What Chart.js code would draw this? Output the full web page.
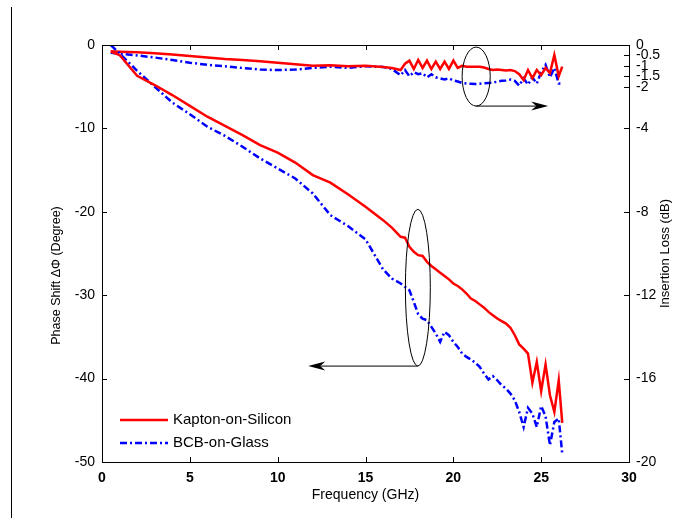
<!DOCTYPE html>
<html>
<head>
<meta charset="utf-8">
<script src="https://cdn.jsdelivr.net/npm/chart.js@4.4.1/dist/chart.umd.min.js"></script>
<style>
  html, body { margin: 0; padding: 0; background: #fff; }
  #wrap { position: relative; width: 673px; height: 518px; }
  #edge { position: absolute; left: 11px; top: 7px; width: 1px; height: 511px; background: #000; }
</style>
</head>
<body>
<div id="wrap">
  <canvas id="chart" width="673" height="518"></canvas>
  <div id="edge"></div>
</div>
<script>
// frequency points (GHz)
const freq = [0.5,1,2,3,4,5,6,7,8,9,10,11,12,13,14,15,16,16.5,
  17,17.25,17.5,17.75,18,18.25,18.5,18.75,19,19.25,19.5,19.75,
  20,20.25,20.5,20.75,21,21.25,21.5,21.75,22,22.25,22.5,22.75,
  23,23.25,23.5,23.75,24,24.25,24.5,24.75,25,25.25,25.5,25.75,26,26.2]

// phase shift (degree), left axis
const kaptonPhase = [-0.8,-1.2,-3.7,-4.8,-6.0,-7.3,-8.6,-9.7,-10.8,-12.0,-12.9,-14.1,-15.6,-16.5,-17.9,-19.4,-21.0,-21.9,
  -23.0,-23.1,-24.2,-24.8,-25.2,-25.3,-26.0,-26.5,-26.9,-27.3,-27.7,-28.1,
  -28.6,-28.9,-29.3,-29.8,-30.4,-30.7,-31.1,-31.5,-32.0,-32.4,-32.8,-33.1,
  -33.4,-33.9,-34.8,-35.9,-36.4,-37.0,-40.5,-38.0,-41.5,-38.3,-42.0,-44.0,-40.2,-45.3]
const bcbPhase = [0,-1.0,-3.1,-5.0,-6.9,-8.3,-9.8,-10.9,-12.2,-13.6,-14.8,-16.0,-17.8,-20.4,-21.7,-23.3,-26.9,-28.0,
  -28.6,-29.0,-29.4,-30.8,-32.3,-32.8,-33.0,-33.8,-34.6,-35.6,-34.4,-34.8,
  -35.6,-36.2,-37.0,-37.4,-37.7,-38.1,-38.6,-39.4,-40.1,-39.7,-40.2,-40.8,
  -41.2,-41.8,-42.6,-44.0,-45.8,-43.5,-44.2,-45.8,-43.3,-44.5,-48.0,-45.2,-44.8,-49.0]

// insertion loss (dB), right axis
const kaptonLoss = [-0.3,-0.32,-0.35,-0.4,-0.45,-0.53,-0.6,-0.67,-0.72,-0.78,-0.85,-0.92,-1.0,-0.97,-1.02,-1.0,-1.05,-1.1,
  -1.2,-0.9,-0.75,-1.15,-0.72,-1.1,-0.75,-1.15,-0.8,-1.15,-0.8,-1.15,
  -0.75,-1.1,-1.0,-1.04,-1.04,-1.04,-1.04,-1.08,-1.15,-1.2,-1.18,-1.2,
  -1.22,-1.2,-1.25,-1.4,-1.68,-1.2,-1.6,-1.2,-1.45,-1.1,-1.35,-0.48,-1.5,-1.04]
const bcbLoss = [-0.37,-0.42,-0.5,-0.6,-0.72,-0.85,-0.95,-1.02,-1.1,-1.18,-1.2,-1.18,-1.1,-1.04,-1.1,-1.02,-1.05,-1.15,
  -1.45,-1.2,-1.5,-1.3,-1.4,-1.35,-1.55,-1.4,-1.55,-1.6,-1.65,-1.6,
  -1.7,-1.75,-1.82,-1.85,-1.86,-1.87,-1.86,-1.84,-1.82,-1.8,-1.76,-1.72,
  -1.7,-1.66,-1.72,-1.95,-1.6,-1.9,-1.55,-1.85,-1.3,-0.95,-1.55,-1.1,-1.85,-1.85]

const xTicks = [0,5,10,15,20,25,30]
const phaseTicks = [0,-10,-20,-30,-40,-50]
const lossTicks = [0,-0.5,-1,-1.5,-2,-4,-8,-12,-16,-20]
const seriesNames = ['Kapton-on-Silicon', 'BCB-on-Glass']

const RED = '#ff0000', BLUE = '#0000ff'
const FONT = '"Liberation Sans", Arial, sans-serif'
const DASHDOT = [7, 3, 2, 3]

// ellipses + arrows, in data units
const lossRing  = { f: 21.3,  half: 0.8,  top: -0.1,  bottom: -2.93, arrowTo: 25.4 }
const phaseRing = { f: 17.98, half: 0.71, top: -19.7, bottom: -38.5, arrowTo: 11.74 }

const pts = ys => freq.map((f, i) => ({ x: f, y: ys[i] }))

function arrowHead(ctx, tipX, y, dir) {
  ctx.beginPath()
  ctx.moveTo(tipX, y)
  ctx.lineTo(tipX - dir * 17, y - 4.5)
  ctx.lineTo(tipX - dir * 12, y)
  ctx.lineTo(tipX - dir * 17, y + 4.5)
  ctx.closePath()
  ctx.fill()
}

const decor = {
  id: 'decor',
  afterDraw(chart) {
    const { ctx, chartArea: a, scales } = chart
    const x = scales.x, y = scales.y, y2 = scales.y2
    ctx.save()
    ctx.strokeStyle = '#000'; ctx.fillStyle = '#000'; ctx.lineWidth = 1

    // frame
    ctx.strokeRect(a.left + 0.5, a.top + 0.5, a.right - a.left, a.bottom - a.top)

    // inward ticks
    ctx.beginPath()
    xTicks.forEach(v => {
      const px = Math.round(x.getPixelForValue(v)) + 0.5
      ctx.moveTo(px, a.bottom); ctx.lineTo(px, a.bottom - 5)
      ctx.moveTo(px, a.top); ctx.lineTo(px, a.top + 5)
    })
    phaseTicks.forEach(v => {
      const py = Math.round(y.getPixelForValue(v)) + 0.5
      ctx.moveTo(a.left, py); ctx.lineTo(a.left + 5, py)
    })
    lossTicks.forEach(v => {
      const py = Math.round(y2.getPixelForValue(v)) + 0.5
      ctx.moveTo(a.right, py); ctx.lineTo(a.right - 5, py)
    })
    ctx.stroke()

    // ellipse + arrow for insertion loss
    let cx = x.getPixelForValue(lossRing.f)
    let rx = x.getPixelForValue(lossRing.f + lossRing.half) - cx
    let t = y2.getPixelForValue(lossRing.top), b = y2.getPixelForValue(lossRing.bottom)
    ctx.beginPath(); ctx.ellipse(cx, (t + b) / 2, rx, (b - t) / 2, 0, 0, Math.PI * 2); ctx.stroke()
    let tip = x.getPixelForValue(lossRing.arrowTo)
    ctx.beginPath(); ctx.moveTo(cx, b); ctx.lineTo(tip - 12, b); ctx.stroke()
    arrowHead(ctx, tip, b, 1)

    // ellipse + arrow for phase
    cx = x.getPixelForValue(phaseRing.f)
    rx = x.getPixelForValue(phaseRing.f + phaseRing.half) - cx
    t = y.getPixelForValue(phaseRing.top); b = y.getPixelForValue(phaseRing.bottom)
    ctx.beginPath(); ctx.ellipse(cx, (t + b) / 2, rx, (b - t) / 2, 0, 0, Math.PI * 2); ctx.stroke()
    tip = x.getPixelForValue(phaseRing.arrowTo)
    ctx.beginPath(); ctx.moveTo(cx, b); ctx.lineTo(tip + 12, b); ctx.stroke()
    arrowHead(ctx, tip, b, -1)

    // legend
    const lx = a.left + 18, ly = a.bottom - 42
    ctx.font = '15px ' + FONT
    ctx.textBaseline = 'middle'; ctx.textAlign = 'left'
    ;[[RED, []], [BLUE, DASHDOT]].forEach(([col, dash], i) => {
      const yy = ly + i * 23
      ctx.strokeStyle = col; ctx.lineWidth = 2.5; ctx.setLineDash(dash)
      ctx.beginPath(); ctx.moveTo(lx, yy); ctx.lineTo(lx + 48, yy); ctx.stroke()
      ctx.setLineDash([])
      ctx.fillStyle = '#000'
      ctx.fillText(seriesNames[i], lx + 53, yy)
    })

    // axis titles
    ctx.fillStyle = '#000'
    ctx.font = '14px ' + FONT
    ctx.textAlign = 'center'
    ctx.fillText('Frequency (GHz)', (a.left + a.right) / 2, 495)
    const midY = (a.top + a.bottom) / 2
    ctx.font = '12.5px ' + FONT
    ctx.save(); ctx.translate(57, midY + 22); ctx.rotate(-Math.PI / 2)
    ctx.fillText('Phase Shift \u0394\u03A6 (Degree)', 0, 0); ctx.restore()
    ctx.font = '13px ' + FONT
    ctx.save(); ctx.translate(665, midY); ctx.rotate(-Math.PI / 2)
    ctx.fillText('Insertion Loss (dB)', 0, 0); ctx.restore()
    ctx.restore()
  }
}

new Chart(document.getElementById('chart'), {
  type: 'line',
  data: {
    datasets: [
      { label: seriesNames[0], data: pts(kaptonPhase), yAxisID: 'y', borderColor: RED, borderWidth: 2.5 },
      { label: seriesNames[1], data: pts(bcbPhase), yAxisID: 'y', borderColor: BLUE, borderWidth: 2.5, borderDash: DASHDOT },
      { label: seriesNames[0] + ' IL', data: pts(kaptonLoss), yAxisID: 'y2', borderColor: RED, borderWidth: 2.5 },
      { label: seriesNames[1] + ' IL', data: pts(bcbLoss), yAxisID: 'y2', borderColor: BLUE, borderWidth: 2.5, borderDash: DASHDOT },
    ]
  },
  options: {
    responsive: false, animation: false,
    layout: { padding: { top: 45, left: 0, right: 0, bottom: 0 } },
    elements: { point: { radius: 0 }, line: { tension: 0, fill: false } },
    plugins: { legend: { display: false }, tooltip: { enabled: false } },
    scales: {
      x: {
        type: 'linear', min: 0, max: 30,
        grid: { display: false, drawTicks: false }, border: { display: false },
        afterBuildTicks: s => { s.ticks = xTicks.map(v => ({ value: v })) },
        afterFit: s => { s.height = 56 },
        ticks: { padding: 8, color: '#000', font: { family: FONT, size: 14, weight: 'bold' } }
      },
      y: {
        position: 'left', min: -50, max: 0,
        grid: { display: false, drawTicks: false }, border: { display: false },
        afterBuildTicks: s => { s.ticks = phaseTicks.map(v => ({ value: v })) },
        afterFit: s => { s.width = 102 },
        ticks: { padding: 7, color: '#000', font: { family: FONT, size: 14 } }
      },
      y2: {
        position: 'right', min: -20, max: 0,
        grid: { display: false, drawTicks: false }, border: { display: false },
        afterBuildTicks: s => { s.ticks = lossTicks.map(v => ({ value: v })) },
        afterFit: s => { s.width = 44 },
        ticks: { padding: 7, autoSkip: false, color: '#000', font: { family: FONT, size: 14 },
                 callback: v => String(v) }
      }
    }
  },
  plugins: [decor]
})
</script>
</body>
</html>
